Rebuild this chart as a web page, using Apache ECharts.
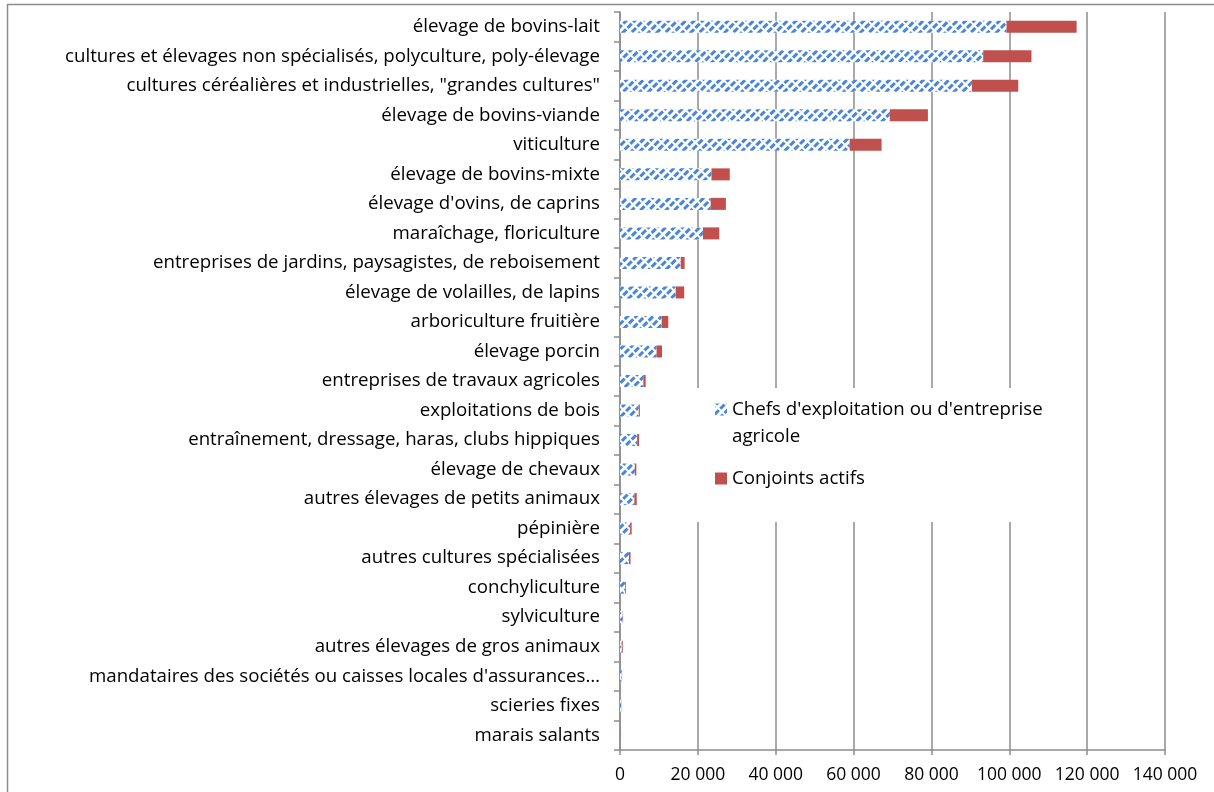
<!DOCTYPE html>
<html>
<head>
<meta charset="utf-8">
<script src="https://cdn.jsdelivr.net/npm/echarts@6/dist/echarts.min.js"></script>
<style>
  html, body { margin: 0; padding: 0; background: #fff; }
  #chart { width: 1214px; height: 792px; }
</style>
</head>
<body>
<div id="chart"></div>
<script>
// categories, top to bottom
const categories = [
  'élevage de bovins-lait',
  'cultures et élevages non spécialisés, polyculture, poly-élevage',
  'cultures céréalières et industrielles, "grandes cultures"',
  'élevage de bovins-viande',
  'viticulture',
  'élevage de bovins-mixte',
  "élevage d'ovins, de caprins",
  'maraîchage, floriculture',
  'entreprises de jardins, paysagistes, de reboisement',
  'élevage de volailles, de lapins',
  'arboriculture fruitière',
  'élevage porcin',
  'entreprises de travaux agricoles',
  'exploitations de bois',
  'entraînement, dressage, haras, clubs hippiques',
  'élevage de chevaux',
  'autres élevages de petits animaux',
  'pépinière',
  'autres cultures spécialisées',
  'conchyliculture',
  'sylviculture',
  'autres élevages de gros animaux',
  "mandataires des sociétés ou caisses locales d'assurances…",
  'scieries fixes',
  'marais salants'
];

const chefs = [99300, 93300, 90400, 69300, 59000, 23500, 23300, 21300, 15600, 14300,
  10700, 9400, 6000, 4800, 4400, 3800, 3700, 2600, 2300, 1300, 700, 450, 450, 250, 50];
const conjoints = [18000, 12400, 11900, 9800, 8200, 4700, 3900, 4200, 1000, 2200,
  1700, 1400, 600, 300, 500, 400, 600, 400, 400, 200, 100, 250, 80, 80, 100];

const seriesNames = ["Chefs d'exploitation ou d'entreprise agricole", 'Conjoints actifs'];
const xTicks = { min: 0, max: 140000, step: 20000 };

const FONT = '"Open Sans", "Noto Sans", sans-serif';
const LABEL_SIZE = 18.7;
const GRID_COLOR = '#8c8c8c';

function fmt(v) {
  return String(v).replace(/\B(?=(\d{3})+(?!\d))/g, ' ');
}

const chart = echarts.init(document.getElementById('chart'));

chart.setOption({
  animation: false,
  backgroundColor: '#ffffff',
  textStyle: { fontFamily: FONT },
  grid: {
    left: 620,
    right: 49,
    top: 12,
    bottom: 42,
    containLabel: false,
    outerBoundsMode: 'none'
  },
  graphic: [
    {
      // outer chart frame
      type: 'rect',
      z: 0,
      silent: true,
      shape: { x: 7.5, y: 4.5, width: 1230, height: 800 },
      style: { fill: null, stroke: GRID_COLOR, lineWidth: 1.5 }
    },
    {
      // white legend box hiding the grid lines
      type: 'rect',
      z: 3,
      silent: true,
      shape: { x: 690, y: 388, width: 392, height: 134 },
      style: { fill: '#ffffff' }
    }
  ],
  legend: [
    {
      orient: 'vertical',
      left: 715,
      top: 369,
      padding: 0,
      z: 5,
      itemWidth: 12,
      itemHeight: 12,
      icon: 'rect',
      data: [seriesNames[0]],
      // empty first line keeps the icon level with "Chefs ..."
      formatter: () => "\nChefs d'exploitation ou d'entreprise\nagricole",
      textStyle: { fontFamily: FONT, fontSize: LABEL_SIZE, color: '#000', lineHeight: 27 }
    },
    {
      orient: 'vertical',
      left: 715,
      top: 469,
      padding: 0,
      z: 5,
      itemWidth: 12,
      itemHeight: 12,
      icon: 'rect',
      data: [seriesNames[1]],
      textStyle: { fontFamily: FONT, fontSize: LABEL_SIZE, color: '#000' }
    }
  ],
  xAxis: {
    type: 'value',
    min: xTicks.min,
    max: xTicks.max,
    interval: xTicks.step,
    axisLine: { show: true, lineStyle: { color: GRID_COLOR, width: 1.5 } },
    axisTick: { show: true, length: 5, lineStyle: { color: GRID_COLOR, width: 1.5 } },
    axisLabel: {
      formatter: fmt,
      fontFamily: FONT,
      fontSize: 17.5,
      color: '#000',
      margin: 16
    },
    splitLine: { show: true, lineStyle: { color: GRID_COLOR, width: 1.5 } }
  },
  yAxis: {
    type: 'category',
    inverse: true,
    data: categories,
    axisLine: { show: true, lineStyle: { color: GRID_COLOR, width: 1.5 } },
    axisTick: { show: true, length: 6, lineStyle: { color: GRID_COLOR, width: 1.5 } },
    axisLabel: {
      fontFamily: FONT,
      fontSize: LABEL_SIZE,
      color: '#000',
      margin: 20,
      interval: 0
    },
    splitLine: { show: false }
  },
  series: [
    {
      name: seriesNames[0],
      type: 'bar',
      stack: 'total',
      barWidth: 12,
      data: chefs,
      itemStyle: {
        color: '#ffffff',
        decal: {
          symbol: 'rect',
          color: '#4a86d8',
          dashArrayX: [[6, 1.5]],
          dashArrayY: [2.6, 2.4],
          rotation: -Math.PI / 4,
          symbolSize: 1
        }
      }
    },
    {
      name: seriesNames[1],
      type: 'bar',
      stack: 'total',
      barWidth: 12,
      data: conjoints,
      itemStyle: { color: '#c0504d' }
    }
  ]
});
</script>
</body>
</html>
